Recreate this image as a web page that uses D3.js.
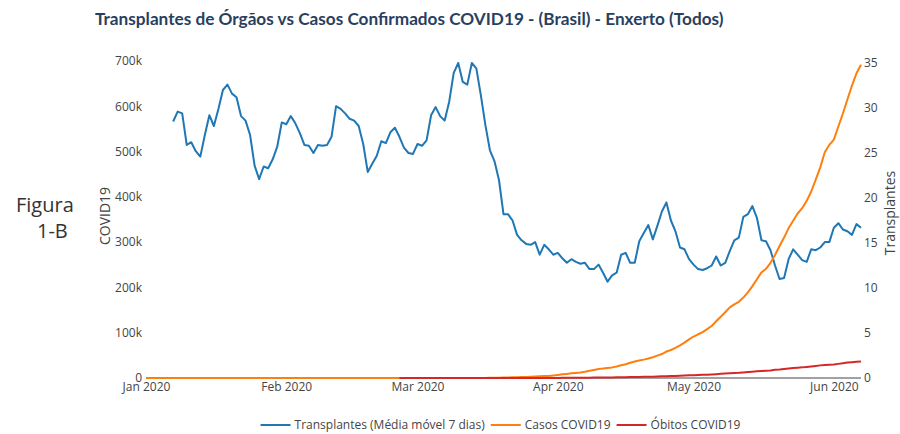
<!DOCTYPE html>
<html>
<head>
<meta charset="utf-8">
<script src="https://cdn.jsdelivr.net/npm/d3@7"></script>
<style>
  body { margin: 0; background: #fff; }
  svg { display: block; }
</style>
</head>
<body>
<script>
// transplants, 7-day moving average, one value per day from Jan 7 2020
const transplantsStart = "2020-01-07";
const transplants = [
  28.5, 29.6, 29.4, 25.9, 26.2, 25.2, 24.6, 27.0, 29.2, 28.0,
  29.9, 32.0, 32.6, 31.6, 31.2, 29.1, 28.6, 27.0, 23.6, 22.1,
  23.5, 23.3, 24.3, 25.7, 28.4, 28.2, 29.1, 28.3, 27.2, 25.9,
  25.8, 25.0, 25.9, 25.8, 25.9, 26.8, 30.2, 29.9, 29.4, 28.8,
  28.6, 28.0, 26.0, 22.9, 23.8, 24.7, 26.3, 26.1, 27.3, 27.8,
  26.8, 25.6, 25.0, 24.9, 26.0, 25.8, 26.4, 29.2, 30.1, 29.1,
  28.6, 30.7, 33.9, 35.0, 32.9, 32.6, 35.0, 34.4, 31.4, 28.1,
  25.3, 24.1, 22.0, 18.2, 18.2, 17.5, 15.9, 15.3, 14.9, 14.8,
  15.1, 13.7, 14.8, 14.3, 13.7, 13.9, 13.3, 12.8, 13.2, 12.9,
  12.7, 12.8, 12.1, 12.1, 12.6, 11.7, 10.7, 11.4, 11.7, 13.7,
  13.9, 12.8, 12.8, 15.2, 16.1, 17.0, 15.4, 16.9, 18.5, 19.5,
  17.5, 16.3, 14.5, 14.3, 13.2, 12.6, 12.1, 12.0, 12.2, 12.5,
  13.5, 12.5, 12.8, 14.1, 15.3, 15.6, 17.9, 18.2, 19.1, 17.8,
  15.3, 15.2, 14.2, 12.5, 11.0, 11.1, 13.2, 14.3, 13.7, 13.1,
  12.9, 14.3, 14.2, 14.5, 15.1, 15.1, 16.7, 17.2, 16.5, 16.3,
  15.9, 17.1, 16.7
];

// confirmed cases, one value per day from Jan 1 2020
const casesStart = "2020-01-01";
const cases = [
  0, 0, 0, 0, 0, 0, 0, 0, 0, 0, 0, 0, 0, 0, 0, 0, 0, 0, 0, 0,
  0, 0, 0, 0, 0, 0, 0, 0, 0, 0, 0, 0, 0, 0, 0, 0, 0, 0, 0, 0,
  0, 0, 0, 0, 0, 0, 0, 0, 0, 0, 0, 0, 0, 0, 0, 0,
  1, 1, 1, 2,
  2, 2, 2, 3, 8, 13, 19, 25, 25, 34, 52, 77, 98, 121, 200, 234,
  291, 428, 621, 904, 1128, 1546, 1891, 2201, 2433, 2915, 3417, 3904, 4256, 4579, 5717,
  6836, 8044, 9056, 10278, 11130, 12056, 13717, 15927, 17857, 19638,
  20727, 22169, 23430, 25262, 28320, 30425, 33682, 36599, 38654, 40581,
  43079, 45757, 49492, 52995, 58509, 61888, 66501, 71886, 78162, 85380,
  91589, 96559, 101147, 107780, 114715, 125218, 135106, 145328, 155939, 162699,
  168331, 177589, 188974, 202918, 218223, 233142, 241080, 254220, 271628, 291579,
  310087, 330890, 347398, 363211, 374898, 391222, 411821, 438238, 465166, 498440, 514849,
  526447, 555383, 584016, 614941, 645771, 672846, 691758
];

// deaths, one value per day from Feb 26 2020
const deathsStart = "2020-02-26";
const deaths = [
  0, 0, 0, 0,
  0, 0, 0, 0, 0, 0, 0, 0, 0, 0, 0, 0, 0, 0, 0, 0,
  1, 4, 7, 11, 18, 25, 34, 46, 59, 77, 92, 111, 136, 159, 201,
  240, 324, 359, 445, 486, 553, 667, 800, 941, 1056,
  1124, 1223, 1328, 1532, 1736, 1924, 2141, 2354, 2462, 2575,
  2741, 2906, 3331, 3704, 4057, 4271, 4543, 5017, 5466, 5901,
  6329, 6750, 7025, 7321, 7921, 8536, 9146, 9897, 10627, 11123,
  11519, 12400, 13149, 13993, 14817, 15633, 16118, 16792, 17971, 18859,
  20047, 21048, 22013, 22666, 23473, 24512, 25598, 26754, 27878, 28834, 29314,
  29937, 31199, 32548, 34021, 35026, 35930, 36455
];

const leftTicks = [0, 100000, 200000, 300000, 400000, 500000, 600000, 700000];
const rightTicks = [0, 5, 10, 15, 20, 25, 30, 35];
const monthTicks = ["2020-01-01", "2020-02-01", "2020-03-01", "2020-04-01", "2020-05-01", "2020-06-01"];
const seriesNames = ["Transplantes (Média móvel 7 dias)", "Casos COVID19", "Óbitos COVID19"];
const seriesColors = ["#1f77b4", "#ff7f0e", "#d62728"];

const width = 900, height = 434;
const margin = { top: 61, right: 39, bottom: 56, left: 146 };
const font = "'Open Sans', sans-serif";

const parse = d3.utcParse("%Y-%m-%d");
const toPoints = (start, values) =>
  values.map((v, i) => ({ date: d3.utcDay.offset(parse(start), i), value: v }));

const transplantPts = toPoints(transplantsStart, transplants);
const casePts = toPoints(casesStart, cases);
const deathPts = toPoints(deathsStart, deaths);

const x = d3.scaleUtc()
  .domain([parse(casesStart), casePts[casePts.length - 1].date])
  .range([margin.left, width - margin.right]);

const yLeft = d3.scaleLinear()
  .domain([0, 700000])
  .range([height - margin.bottom, margin.top]);

const yRight = d3.scaleLinear()
  .domain([0, 35])
  .range([height - margin.bottom, 63]);

const svg = d3.select("body").append("svg")
  .attr("width", width)
  .attr("height", height)
  .style("font-family", font);

// title
svg.append("text")
  .attr("x", 95)
  .attr("y", 25)
  .attr("font-family", "Lato, sans-serif")
  .attr("font-weight", "bold")
  .attr("font-size", 17.2)
  .attr("fill", "#2a3f5f")
  .text("Transplantes de Órgãos vs Casos Confirmados COVID19 - (Brasil) - Enxerto (Todos)");

// side label
const fig = svg.append("g")
  .attr("font-size", 20)
  .attr("fill", "#333");
fig.append("text").attr("x", 16).attr("y", 212).text("Figura");
fig.append("text").attr("x", 37).attr("y", 238).text("1-B");

// axes
const leftAxis = svg.append("g")
  .attr("transform", "translate(" + margin.left + ",0)")
  .call(d3.axisLeft(yLeft)
    .tickValues(leftTicks)
    .tickSize(0)
    .tickPadding(4)
    .tickFormat(d => d === 0 ? "0" : (d / 1000) + "k"));

const rightAxis = svg.append("g")
  .attr("transform", "translate(" + (width - margin.right) + ",0)")
  .call(d3.axisRight(yRight)
    .tickValues(rightTicks)
    .tickSize(0)
    .tickPadding(3));

const bottomAxis = svg.append("g")
  .attr("transform", "translate(0," + (height - margin.bottom) + ")")
  .call(d3.axisBottom(x)
    .tickValues(monthTicks.map(parse))
    .tickSize(0)
    .tickPadding(4)
    .tickFormat(d3.utcFormat("%b %Y")));

[leftAxis, rightAxis, bottomAxis].forEach(g => {
  g.select(".domain").remove();
  g.selectAll("text")
    .attr("font-family", font)
    .attr("font-size", 12)
    .attr("fill", "#444");
});

// zero line
svg.append("line")
  .attr("x1", margin.left)
  .attr("x2", width - margin.right)
  .attr("y1", yLeft(0))
  .attr("y2", yLeft(0))
  .attr("stroke", "#444")
  .attr("stroke-width", 1);

// axis titles
svg.append("text")
  .attr("transform", "translate(110," + 216 + ") rotate(-90)")
  .attr("text-anchor", "middle")
  .attr("font-size", 14)
  .attr("fill", "#444")
  .text("COVID19");

svg.append("text")
  .attr("transform", "translate(895," + 213 + ") rotate(-90)")
  .attr("text-anchor", "middle")
  .attr("font-size", 14)
  .attr("fill", "#444")
  .text("Transplantes");

// lines
const lineLeft = d3.line().x(d => x(d.date)).y(d => yLeft(d.value));
const lineRight = d3.line().x(d => x(d.date)).y(d => yRight(d.value));

svg.append("path")
  .datum(transplantPts)
  .attr("fill", "none")
  .attr("stroke", seriesColors[0])
  .attr("stroke-width", 2)
  .attr("stroke-linejoin", "round")
  .attr("d", lineRight);

svg.append("path")
  .datum(casePts)
  .attr("fill", "none")
  .attr("stroke", seriesColors[1])
  .attr("stroke-width", 2)
  .attr("stroke-linejoin", "round")
  .attr("d", lineLeft);

svg.append("path")
  .datum(deathPts)
  .attr("fill", "none")
  .attr("stroke", seriesColors[2])
  .attr("stroke-width", 2)
  .attr("stroke-linejoin", "round")
  .attr("d", lineLeft);

// legend, centred under the plot
const legend = svg.append("g").attr("font-size", 12);
const items = seriesNames.map((name, i) => {
  const g = legend.append("g");
  g.append("line")
    .attr("x1", 0).attr("x2", 30)
    .attr("y1", 0).attr("y2", 0)
    .attr("stroke", seriesColors[i])
    .attr("stroke-width", 2);
  const t = g.append("text")
    .attr("x", 34)
    .attr("y", 4)
    .attr("fill", "#444")
    .text(name);
  return { g: g, w: 34 + t.node().getComputedTextLength() + 6 };
});
const totalW = d3.sum(items, d => d.w);
let lx = (margin.left + width - margin.right) / 2 - totalW / 2;
items.forEach(it => {
  it.g.attr("transform", "translate(" + lx + ",425)");
  lx += it.w;
});
</script>
</body>
</html>
